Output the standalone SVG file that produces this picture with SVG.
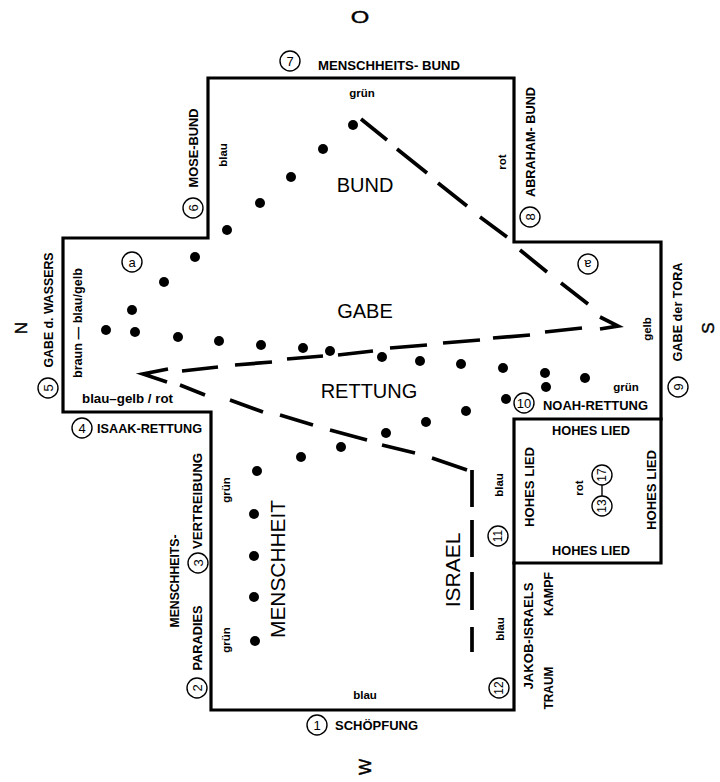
<svg xmlns="http://www.w3.org/2000/svg" width="720" height="782" viewBox="0 0 720 782">
<style>
.o{fill:none;stroke:#000;stroke-width:3.2;stroke-linejoin:miter;stroke-linecap:square}
.ds{fill:none;stroke:#000;stroke-width:3.7;stroke-linecap:butt;stroke-linejoin:miter}
.dot{fill:#000}
text{font-family:"Liberation Sans",Arial,Helvetica,sans-serif;fill:#000}
.lb{font-size:12.5px;font-weight:bold}
.col{font-size:11.5px;font-weight:bold}
.big{font-size:20px}
.big2{font-size:21px}
.cp{font-size:17px;stroke:#000;stroke-width:0.4}
.ci{fill:none;stroke:#000;stroke-width:1.4}
.num{font-size:13px;text-anchor:middle}
.m{text-anchor:middle}
</style>
<rect width="720" height="782" fill="#fff"/>

<g id="compass">
<text class="cp m" transform="translate(360,23) scale(1.4,1)">O</text>
<text class="cp m" transform="translate(21,328) rotate(-90)" dy="0.36em">N</text>
<text class="cp m" transform="translate(708,328) rotate(-90)" dy="0.36em">S</text>
<text class="cp m" transform="translate(365,767) rotate(-90)" dy="0.36em">W</text>
</g>

<g id="outline">
<path class="o" d="M208,78 H514 V242 H661 V563 H514 V710 H211 V412 H63 V238 H208 Z"/>
<path class="o" d="M661,419 H514 V563"/>
</g>

<g id="connectors">
<path class="ds" d="M361,119 L387,140 M397,149 L427,173 M438,183 L467,206 M480,217 L507,237 M520,250 L547,272 M561,283 L588,304"/>
<path class="ds" d="M600,317 L618,326 L600,329"/>
<path class="ds" d="M582,328 L545,332 M530,335 L493,338 M480,340 L443,343 M427,345 L390,348 M373,351 L338,355 M323,356 L287,359 M272,362 L235,365 M218,367 L182,371"/>
<path class="ds" d="M168,369 L143,374 L167,382"/>
<path class="ds" d="M180,385 L205,395 M230,400 L263,412 M280,415 L313,425 M330,430 L367,440 M382,445 L415,453 M432,458 L467,470"/>
<path class="ds" d="M472,470 V507 M472,520 V557 M472,572 V610 M472,627 V652"/>
<path d="M602,485 V496" stroke="#000" stroke-width="1.4"/>
</g>

<g id="dots" class="dot">
<circle cx="353" cy="125" r="5"/>
<circle cx="323" cy="149" r="5"/>
<circle cx="291" cy="177" r="5"/>
<circle cx="260" cy="203" r="5"/>
<circle cx="227" cy="230" r="5"/>
<circle cx="195" cy="257" r="5"/>
<circle cx="164" cy="282" r="5"/>
<circle cx="132" cy="310" r="5"/>
<circle cx="106" cy="330" r="5"/>
<circle cx="135" cy="332" r="5"/>
<circle cx="178" cy="337" r="5"/>
<circle cx="219" cy="341" r="5"/>
<circle cx="261" cy="345" r="5"/>
<circle cx="303" cy="348" r="5"/>
<circle cx="330" cy="351" r="5"/>
<circle cx="382" cy="357" r="5"/>
<circle cx="420" cy="361" r="5"/>
<circle cx="461" cy="364" r="5"/>
<circle cx="503" cy="368" r="5"/>
<circle cx="545" cy="373" r="5"/>
<circle cx="585" cy="378" r="5"/>
<circle cx="546" cy="387" r="5"/>
<circle cx="506" cy="399" r="5"/>
<circle cx="466" cy="411" r="5"/>
<circle cx="426" cy="422" r="5"/>
<circle cx="386" cy="433" r="5"/>
<circle cx="341" cy="447" r="5"/>
<circle cx="301" cy="457" r="5"/>
<circle cx="257" cy="471" r="5"/>
<circle cx="254" cy="514" r="5"/>
<circle cx="254" cy="556" r="5"/>
<circle cx="254" cy="597" r="5"/>
<circle cx="255" cy="641" r="5"/>
</g>

<g id="region-bund"><text class="big m" x="365" y="192">BUND</text></g>
<g id="region-gabe"><text class="big m" x="365" y="318">GABE</text></g>
<g id="region-rettung"><text class="big m" x="369" y="398">RETTUNG</text></g>
<g id="region-menschheit"><text class="big2 m" transform="translate(277,569) rotate(-90)" dy="0.36em" textLength="138" lengthAdjust="spacingAndGlyphs">MENSCHHEIT</text></g>
<g id="region-israel"><text class="big2 m" transform="translate(452,570) rotate(-90)" dy="0.36em">ISRAEL</text></g>

<g id="node-1">
<circle class="ci" cx="317" cy="725" r="10"/><text class="num" x="317" y="729.7">1</text>
<text class="lb" x="335" y="730" textLength="83" lengthAdjust="spacingAndGlyphs">SCHÖPFUNG</text>
<text class="col m" x="365" y="699">blau</text>
</g>
<g id="node-2">
<circle class="ci" cx="197" cy="688" r="10"/><text class="num" transform="translate(197,688) rotate(-90)" dy="0.36em">2</text>
<text class="lb m" transform="translate(197,638) rotate(-90)" dy="0.36em" textLength="65" lengthAdjust="spacingAndGlyphs">PARADIES</text>
<text class="lb m" transform="translate(174,581) rotate(-90)" dy="0.36em" textLength="93" lengthAdjust="spacingAndGlyphs">MENSCHHEITS-</text>
<text class="col m" transform="translate(226,640) rotate(-90)" dy="0.36em">grün</text>
</g>
<g id="node-3">
<circle class="ci" cx="198" cy="563" r="10"/><text class="num" transform="translate(198,563) rotate(-90)" dy="0.36em">3</text>
<text class="lb m" transform="translate(197,501) rotate(-90)" dy="0.36em" textLength="96" lengthAdjust="spacingAndGlyphs">VERTREIBUNG</text>
<text class="col m" transform="translate(226,490) rotate(-90)" dy="0.36em">grün</text>
</g>
<g id="node-4">
<circle class="ci" cx="82" cy="428" r="10"/><text class="num" x="82" y="432.7">4</text>
<text class="lb" x="97" y="433" textLength="105" lengthAdjust="spacingAndGlyphs">ISAAK-RETTUNG</text>
</g>
<g id="node-5">
<circle class="ci" cx="48" cy="388" r="10"/><text class="num" transform="translate(48,388) rotate(-90)" dy="0.36em">5</text>
<text class="lb m" transform="translate(48,310) rotate(-90)" dy="0.36em" textLength="115" lengthAdjust="spacingAndGlyphs">GABE d. WASSERS</text>
<text class="lb m" transform="translate(77,323) rotate(-90)" dy="0.36em" textLength="110" lengthAdjust="spacingAndGlyphs">braun — blau/gelb</text>
<text class="lb" x="82" y="403" textLength="91" lengthAdjust="spacingAndGlyphs">blau–gelb / rot</text>
</g>
<g id="node-a">
<circle class="ci" cx="132" cy="262" r="10"/><text class="num" x="132" y="266.5">a</text>
</g>
<g id="node-6">
<circle class="ci" cx="193" cy="208" r="10"/><text class="num" transform="translate(193,208) rotate(-90)" dy="0.36em">6</text>
<text class="lb m" transform="translate(193,148) rotate(-90)" dy="0.36em" textLength="79" lengthAdjust="spacingAndGlyphs">MOSE-BUND</text>
<text class="col m" transform="translate(223,155) rotate(-90)" dy="0.36em">blau</text>
</g>
<g id="node-7">
<circle class="ci" cx="290" cy="61" r="10"/><text class="num" x="290" y="65.7">7</text>
<text class="lb" x="318" y="70" textLength="142" lengthAdjust="spacingAndGlyphs">MENSCHHEITS- BUND</text>
<text class="col m" x="362" y="97">grün</text>
</g>
<g id="node-8">
<circle class="ci" cx="530" cy="217" r="10"/><text class="num" transform="translate(530,217) rotate(-90)" dy="0.36em">8</text>
<text class="lb m" transform="translate(530,142) rotate(-90)" dy="0.36em" textLength="110" lengthAdjust="spacingAndGlyphs">ABRAHAM- BUND</text>
<text class="col m" transform="translate(502,162) rotate(-90)" dy="0.36em">rot</text>
</g>
<g id="node-b">
<circle class="ci" cx="588" cy="264" r="10"/><text class="num" transform="translate(588,264) rotate(180)" dy="0.34em">a</text>
</g>
<g id="node-9">
<circle class="ci" cx="678" cy="387" r="10"/><text class="num" transform="translate(678,387) rotate(-90)" dy="0.36em">9</text>
<text class="lb m" transform="translate(677,312) rotate(-90)" dy="0.36em" textLength="99" lengthAdjust="spacingAndGlyphs">GABE der TORA</text>
<text class="col m" transform="translate(647,329) rotate(-90)" dy="0.36em">gelb</text>
</g>
<g id="node-10">
<circle class="ci" cx="524" cy="403" r="10"/><text class="num" x="524" y="407.7">10</text>
<text class="lb" x="543" y="410" textLength="105" lengthAdjust="spacingAndGlyphs">NOAH-RETTUNG</text>
<text class="col m" x="626" y="391">grün</text>
</g>
<g id="node-hohes-lied">
<text class="lb m" x="591" y="435" textLength="78" lengthAdjust="spacingAndGlyphs">HOHES LIED</text>
<text class="lb m" x="591" y="555" textLength="78" lengthAdjust="spacingAndGlyphs">HOHES LIED</text>
<text class="lb m" transform="translate(529,487) rotate(-90)" dy="0.36em" textLength="80" lengthAdjust="spacingAndGlyphs">HOHES LIED</text>
<text class="lb m" transform="translate(651,490) rotate(-90)" dy="0.36em" textLength="80" lengthAdjust="spacingAndGlyphs">HOHES LIED</text>
<text class="col m" transform="translate(579,488) rotate(-90)" dy="0.36em">rot</text>
<circle class="ci" cx="602" cy="475" r="10"/><text class="num" transform="translate(602,475) rotate(-90)" dy="0.36em" style="font-size:12px">17</text>
<circle class="ci" cx="602" cy="506" r="10"/><text class="num" transform="translate(602,506) rotate(-90)" dy="0.36em" style="font-size:12px">13</text>
</g>
<g id="node-11">
<circle class="ci" cx="498" cy="536" r="10"/><text class="num" transform="translate(498,536) rotate(-90)" dy="0.36em" style="font-size:12px">11</text>
<text class="col m" transform="translate(499,485) rotate(-90)" dy="0.36em">blau</text>
</g>
<g id="node-12">
<circle class="ci" cx="499" cy="688" r="10"/><text class="num" transform="translate(499,688) rotate(-90)" dy="0.36em" style="font-size:12px">12</text>
<text class="col m" transform="translate(500,629) rotate(-90)" dy="0.36em">blau</text>
<text class="lb m" transform="translate(528,636) rotate(-90)" dy="0.36em" textLength="107" lengthAdjust="spacingAndGlyphs">JAKOB-ISRAELS</text>
<text class="lb m" transform="translate(548,594) rotate(-90)" dy="0.36em" textLength="44" lengthAdjust="spacingAndGlyphs">KAMPF</text>
<text class="lb m" transform="translate(548,688) rotate(-90)" dy="0.36em" textLength="43" lengthAdjust="spacingAndGlyphs">TRAUM</text>
</g>
</svg>
